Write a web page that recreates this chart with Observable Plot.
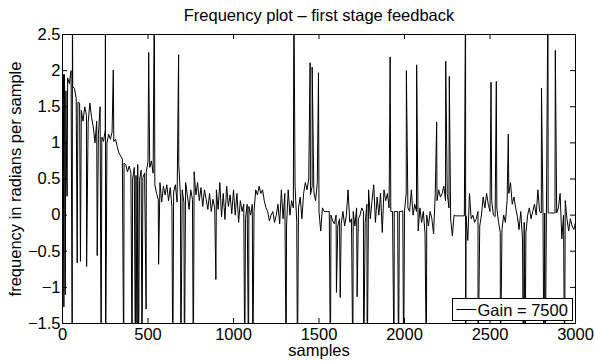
<!DOCTYPE html>
<html><head><meta charset="utf-8">
<script src="https://cdn.jsdelivr.net/npm/d3@7"></script>
<script src="https://cdn.jsdelivr.net/npm/@observablehq/plot@0.6"></script>
<style>
html,body{margin:0;padding:0;background:#fff;}
#wrap{position:relative;width:595px;height:361px;font-family:"Liberation Sans",Arial,Helvetica,sans-serif;}
#wrap svg{display:block;}
</style></head><body>
<div id="wrap"></div>
<script>
// ---- data ----
const baseStep = 10; // samples between baseline readings
const baseValues = [
  1.9, 1.95, 1.72, 1.9, 1.82, 2.0, 1.78, 1.75, 1.62, 1.56,
  1.55, 1.45, 1.3, 1.5, 1.38, 1.28, 1.55, 1.35, 1.22, 1.0,
  1.3, 1.12, 1.5, 1.08, 1.02, 1.18, 1.0, 1.12, 1.05, 1.15,
  1.02, 1.05, 0.95, 0.86, 0.82, 0.78, 0.72, 0.7, 0.6, 0.68,
  0.58, 0.5, 0.66, 0.55, 0.7, 0.48, 0.62, 0.52, 0.58, 0.6,
  0.74, 0.66, 0.75, 0.58, 0.42, 0.3, 0.22, 0.45, 0.18, 0.4,
  0.28, 0.42, 0.2, 0.38, 0.12, 0.32, 0.42, 0.18, 0.7, 0.25,
  0.35, 0.18, 0.45, 0.28, 0.08, 0.35, 0.22, 0.6, 0.28, 0.45,
  0.2, 0.38, 0.12, 0.35, 0.22, 0.08, 0.3, 0.05, 0.22, 0.1,
  0.35, 0.08, 0.45, -0.02, 0.3, -0.06, 0.4, 0.12, 0.28, 0.02,
  0.35, 0.0, 0.3, -0.1, 0.2, 0.05, 0.15, -0.05, 0.15, 0.12,
  0.0, 0.15, 0.05, 0.35, 0.28, 0.4, 0.3, 0.35, 0.2, 0.1,
  0.05, -0.08, 0.0, 0.05, -0.1, 0.0, 0.15, -0.12, 0.35, -0.05,
  0.3, -0.15, 0.35, 0.0, 0.2, 0.1, 0.4, -0.1, 0.1, 0.25,
  -0.05, 0.3, 0.45, 0.35, 0.5, 0.28, 0.4, 0.32, 0.2, 0.45,
  0.05, -0.22, 0.1, 0.05, 0.05, 0.05, 0.05, 0.0, -0.08, -0.12,
  0.0, -0.15, -0.05, -0.12, 0.05, -0.15, 0.0, 0.35, -0.1, -0.05,
  0.05, -0.15, 0.1, -0.05, 0.0, 0.1, 0.05, -0.1, 0.15, 0.35,
  -0.05, 0.2, 0.42, -0.1, 0.25, 0.0, 0.3, -0.24, 0.35, 0.2,
  0.3, 0.1, 0.05, 0.05, 0.05, 0.05, 0.05, 0.05, 0.05, 0.06,
  0.06, 0.3, 0.1, 0.05, 0.35, 0.0, 0.15, 0.05, -0.22, 0.1,
  -0.1, 0.05, -0.25, 0.0, -0.15, 0.05, -0.05, -0.26, 0.3, 0.2,
  0.35, 0.25, 0.3, 0.4, 0.2, 0.3, 0.1, -0.05, -0.29, 0.0,
  -0.01, -0.01, -0.01, -0.01, -0.01, -0.01, -0.01, -0.35, 0.3, -0.05,
  0.0, -0.1, -0.05, 0.05, -0.15, 0.0, 0.25, 0.1, 0.3, 0.15,
  0.05, 0.2, 0.0, -0.02, 0.1, -0.1, -0.24, -0.2, 0.0, -0.1,
  0.2, 0.3, 0.45, 0.15, 0.25, 0.1, -0.02, -0.2, 0.05, -0.33,
  -0.1, -0.25, 0.0, 0.1, -0.05, 0.05, 0.15, 0.0, 0.35, 0.05,
  0.03, 0.03, 0.03, 0.03, 0.03, 0.03, 0.03, 0.03, 0.03, 0.03,
  0.1, 0.3, -0.33, 0.0, 0.2, -0.05, -0.22, -0.05, -0.15, -0.2,
  -0.1
];
// isolated outlier samples (values beyond the axes are clipped)
const spikeSamples = [3, 5, 8, 12, 16, 20, 24, 27, 57, 58, 86, 105, 141, 203, 226,
  251, 252, 297, 358, 407, 426, 436, 445, 465, 489, 504, 537, 562,
  645, 679, 692, 713, 765, 897, 1066, 1088, 1113, 1308, 1353, 1374,
  1448, 1460, 1497, 1567, 1602, 1624, 1698, 1723, 1761, 1782,
  1916, 1939, 1965, 1995, 2011, 2071, 2128, 2188, 2241, 2262,
  2357, 2358, 2430, 2506, 2537, 2561, 2607, 2695, 2705,
  2801, 2815, 2823, 2839, 2882, 2936];
const spikeValues = [-0.6, 1.95, -1.27, 1.9, -1.1, 1.6, 0.6, 0.26, -2.2, 3.2, -0.66, -0.64, -0.71, -0.56, -2.2,
  3.2, -2.2, 2.01, -2.2, -2.2, -2.2, -2.2, -2.2, -2.2, -1.3, 2.25, 3.2, -0.68,
  -2.2, 2.22, -2.2, -2.2, -2.2, -0.89, -2.2, -2.2, -2.2, -2.2, 3.2, -2.2,
  2.11, 2.05, 1.97, -2.2, -1.07, -1.14, -2.2, -1.13, -2.2, -2.2,
  2.19, -2.2, -2.2, -2.2, 2.0, 2.08, -2.2, 1.29, 2.13, 1.92,
  3.2, -2.2, -2.2, 1.84, 1.85, -2.2, 1.12, -2.2, -2.2,
  1.76, -2.2, -2.2, 3.2, 2.28, -2.2];
const xTicks = [0, 500, 1000, 1500, 2000, 2500, 3000];
const yTicks = [-1.5, -1, -0.5, 0, 0.5, 1, 1.5, 2, 2.5];
const xDomain = [0, 3000];
const yDomain = [-1.5, 2.5];
const titleText = "Frequency plot \u2013 first stage feedback";
const xLabelText = "samples";
const yLabelText = "frequency in radians per sample";
const legendText = "Gain = 7500";

// ---- table ----
const series = baseValues.map((v, i) => ({s: i * baseStep, v}))
  .concat(spikeSamples.map((s, i) => ({s, v: spikeValues[i]})))
  .sort((a, b) => a.s - b.s);

// ---- layout ----
const W = 595, H = 361;
const mL = 62, mR = 20, mT = 34, mB = 38;
const pw = W - mL - mR, ph = H - mT - mB;
const fs = 16.5;
const font = '"Liberation Sans", Arial, Helvetica, sans-serif';
const fmt = d => (d < 0 ? "\u2212" : "") + String(Math.abs(d));

const chart = Plot.plot({
  width: W, height: H,
  marginLeft: mL, marginRight: mR, marginTop: mT, marginBottom: mB,
  style: {fontFamily: font, fontSize: fs + "px", color: "#000", background: "#fff"},
  x: {domain: xDomain},
  y: {domain: yDomain},
  marks: [
    Plot.line(series, {x: "s", y: "v", stroke: "#000", strokeWidth: 1, clip: true}),
    Plot.frame({stroke: "#000", strokeWidth: 1}),
    Plot.tickX(xTicks, {x: d => d, insetTop: ph - 5, stroke: "#000"}),
    Plot.tickX(xTicks, {x: d => d, insetBottom: ph - 5, stroke: "#000"}),
    Plot.tickY(yTicks, {y: d => d, insetRight: pw - 5, stroke: "#000"}),
    Plot.tickY(yTicks, {y: d => d, insetLeft: pw - 5, stroke: "#000"}),
    Plot.axisX(xTicks, {tickSize: 0, tickPadding: 5, fontSize: fs, label: null, fill: "#000", tickFormat: fmt}),
    Plot.axisY(yTicks, {tickSize: 0, tickPadding: 2, fontSize: fs, label: null, fill: "#000", tickFormat: fmt}),
    Plot.text([titleText], {frameAnchor: "top", lineAnchor: "bottom", textAnchor: "middle", dy: -13.5, fontSize: fs, fill: "#000"}),
    Plot.text([xLabelText], {frameAnchor: "bottom", lineAnchor: "bottom", textAnchor: "middle", dy: 32, fontSize: fs, fill: "#000"}),
    Plot.text([yLabelText], {frameAnchor: "left", lineAnchor: "bottom", textAnchor: "middle", rotate: -90, dx: -41.5, fontSize: fs, fill: "#000"})
  ]
});
const wrap = document.getElementById("wrap");
wrap.appendChild(chart);

// legend box (drawn over the lines, like the original)
const ns = "http://www.w3.org/2000/svg";
const lg = document.createElementNS(ns, "svg");
lg.setAttribute("width", W); lg.setAttribute("height", H);
lg.style.position = "absolute"; lg.style.left = "0"; lg.style.top = "0";
lg.innerHTML = `
  <rect x="452.5" y="298.5" width="120" height="22" fill="#fff" stroke="#000" stroke-width="1"/>
  <line x1="456.5" x2="476.5" y1="309.5" y2="309.5" stroke="#000" stroke-width="1"/>
  <text x="477.5" y="315.5" font-family='${font}' font-size="${fs}" fill="#000"></text>`;
lg.querySelector("text").textContent = legendText;
wrap.appendChild(lg);
</script>
</body></html>
